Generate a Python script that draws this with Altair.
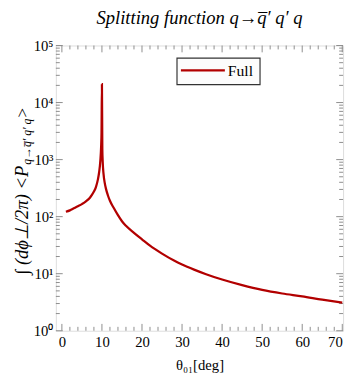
import altair as alt
import pandas as pd

# ---- data ----
theta = [1, 2, 3, 4, 5, 6, 7, 7.5, 8, 8.5, 9, 9.3, 9.6, 9.8, 9.9, 10, 10.1, 10.2, 10.4,
         10.7, 11, 11.5, 12, 13, 14, 15, 16, 18, 20, 22, 25, 28, 30, 33, 36, 40, 45, 50,
         55, 60, 65, 70]
full = [122, 129, 140, 152, 166, 185, 215, 240, 275, 330, 450, 600, 950, 1700, 3000,
        21000, 1500, 900, 560, 390, 310, 235, 190, 140, 106, 83, 69, 52, 40, 31, 22.5, 17,
        14.5, 11.8, 9.8, 7.9, 6.3, 5.2, 4.5, 4.0, 3.5, 3.1]
series = ["Full"] * len(theta)

x_major = [0, 10, 20, 30, 40, 50, 60, 70]
x_minor = [v for v in range(2, 70, 2) if v % 10 != 0]
y_major = [1, 10, 100, 1000, 10000, 100000]
y_minor = [m * 10 ** e for e in range(0, 5) for m in range(2, 10)]

W, H = 294, 292
XDOM = [-1.5, 70.2]
FONT = "Liberation Serif"
RED = "#b20000"
TICK = "#8c8c8c"

xs = alt.Scale(domain=XDOM, nice=False, zero=False)
ys = alt.Scale(type="log", domain=[1, 100000], nice=False)

df = pd.DataFrame({"theta": theta, "val": full, "series": series})

line = alt.Chart(df).mark_line(strokeWidth=2.3, interpolate="monotone", clip=True).encode(
    x=alt.X("theta:Q", scale=xs,
            axis=alt.Axis(values=x_major, ticks=False, domain=False, grid=False,
                          labelFont=FONT, labelFontSize=15, labelColor="black",
                          labelPadding=4, title="θ₀₁[deg]", titleFont=FONT,
                          titleFontSize=15, titleFontWeight="normal", titleColor="black",
                          titlePadding=9)),
    y=alt.Y("val:Q", scale=ys,
            axis=alt.Axis(values=y_major, ticks=False, domain=False, grid=False,
                          labelExpr="'10' + ['⁰','¹','²','³','⁴','⁵'][round(log(datum.value)/LN10)]",
                          labelFont=FONT, labelFontSize=15, labelColor="black",
                          labelPadding=3, title=None)),
    color=alt.Color("series:N", scale=alt.Scale(range=[RED]), legend=None),
)


def xticks(vals, length):
    d = pd.DataFrame({"v": vals})
    bot = alt.Chart(d).mark_rule(color=TICK, strokeWidth=1).encode(
        x=alt.X("v:Q", scale=xs), y=alt.value(H), y2=alt.value(H - length))
    top = alt.Chart(d).mark_rule(color=TICK, strokeWidth=1).encode(
        x=alt.X("v:Q", scale=xs), y=alt.value(0), y2=alt.value(length))
    return [bot, top]


def yticks(vals, length):
    d = pd.DataFrame({"v": vals})
    left = alt.Chart(d).mark_rule(color=TICK, strokeWidth=1).encode(
        y=alt.Y("v:Q", scale=ys), x=alt.value(0), x2=alt.value(length))
    right = alt.Chart(d).mark_rule(color=TICK, strokeWidth=1).encode(
        y=alt.Y("v:Q", scale=ys), x=alt.value(W), x2=alt.value(W - length))
    return [left, right]


ticks = xticks(x_major, 7) + xticks(x_minor, 4) + yticks(y_major, 7) + yticks(y_minor, 4)

one = pd.DataFrame({"t": ["a"]})

# chart title as a text mark
title = alt.Chart(one).mark_text(text="Splitting function q→q̅′ q′ q", align="center",
                                 baseline="alphabetic", font=FONT, fontSize=19,
                                 fontStyle="italic", color="black").encode(
    x=alt.value(W / 2), y=alt.value(-22))

# manual legend box
leg_box = alt.Chart(one).mark_rect(fill="#fcfcfc", stroke="#333333", strokeWidth=1.2).encode(
    x=alt.value(124), x2=alt.value(209), y=alt.value(13), y2=alt.value(40))
leg_line = alt.Chart(one).mark_rule(color=RED, strokeWidth=2.3).encode(
    x=alt.value(128), x2=alt.value(173), y=alt.value(25.5))
leg_text = alt.Chart(one).mark_text(text="Full", align="left", baseline="alphabetic",
                                    font=FONT, fontSize=16, color="black").encode(
    x=alt.value(176), y=alt.value(31))

# y-axis title in pieces (main + subscript + closing bracket), rotated
y0 = 123
main = alt.Chart(one).mark_text(text="∫ (dϕ⊥/2π) <P", angle=270, align="right",
                                baseline="alphabetic", font=FONT, fontSize=19,
                                fontStyle="italic", color="black").encode(
    x=alt.value(-29), y=alt.value(y0))
sub = alt.Chart(one).mark_text(text="q→q̅′ q′ q", angle=270, align="left",
                               baseline="alphabetic", font=FONT, fontSize=12,
                               fontStyle="italic", color="black").encode(
    x=alt.value(-25), y=alt.value(y0 - 1))
close = alt.Chart(one).mark_text(text=">", angle=270, align="left",
                                 baseline="alphabetic", font=FONT, fontSize=18,
                                 color="black").encode(x=alt.value(-29), y=alt.value(y0 - 49))

chart = alt.layer(*ticks, line, leg_box, leg_line, leg_text, main, sub, close, title).properties(
    width=W, height=H,
    autosize=alt.AutoSizeParams(type="none"),
    padding={"left": 49, "top": 34, "right": 3, "bottom": 45},
).configure_view(stroke="#8c8c8c", strokeWidth=1).configure(background="white")

chart.save("out.html", embed_options={"renderer": "svg", "actions": False})
